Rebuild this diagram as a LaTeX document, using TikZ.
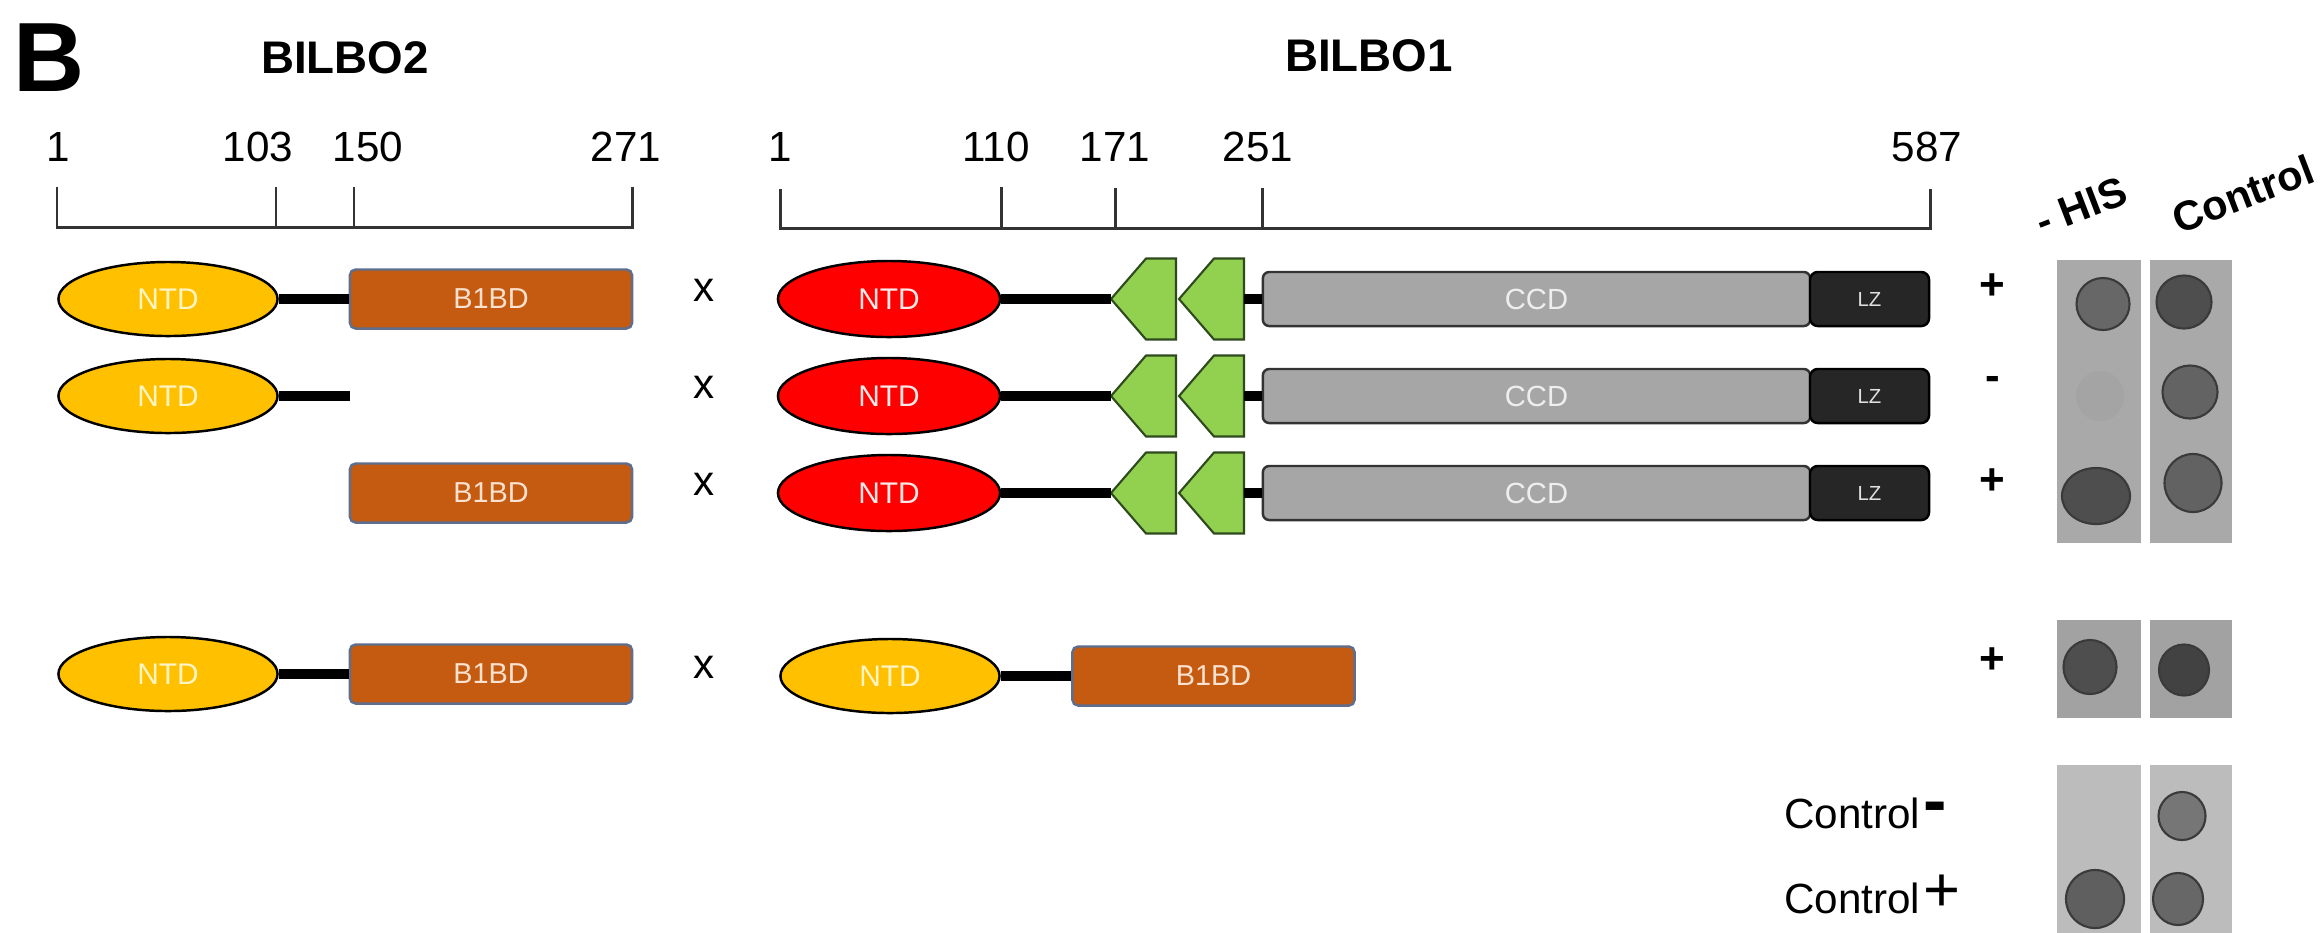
\documentclass[tikz,border=0pt]{standalone}
\usepackage{fontspec}
\setmainfont{Liberation Sans}
\usetikzlibrary{shapes.geometric}

\definecolor{ntdyel}{HTML}{FFC000}
\definecolor{ntdyeltext}{HTML}{FFF4C4}
\definecolor{ntdred}{HTML}{FF0000}
\definecolor{ntdredtext}{HTML}{FFE8E8}
\definecolor{bbd}{HTML}{C55A11}
\definecolor{bbdline}{HTML}{5E6E8C}
\definecolor{bbdtext}{HTML}{FBE2D0}
\definecolor{chevgreen}{HTML}{92D050}
\definecolor{chevline}{HTML}{2E4A1E}
\definecolor{ccdgray}{HTML}{A6A6A6}
\definecolor{ccdtext}{HTML}{EEEEEE}
\definecolor{lzblack}{HTML}{262626}
\definecolor{barline}{HTML}{333333}
\definecolor{padA}{HTML}{A9A9A9}
\definecolor{padB}{HTML}{A2A2A2}
\definecolor{padC}{HTML}{BCBCBC}
\definecolor{spot}{HTML}{4E4E4E}
\definecolor{spotlight}{HTML}{676767}
\definecolor{spotrim}{HTML}{3A3A3A}
\definecolor{faint}{HTML}{A4A4A4}

\newcommand{\fs}[1]{\fontsize{#1}{#1}\selectfont}

% left-pointing chevron: tip at (#1,#2), named coordinates for tip and back
\newcommand{\chevron}[3]{%
  \coordinate (#3tip) at (#1,#2);
  \coordinate (#3back) at ({#1+65},#2);
  \draw[chevstyle] (#1,#2) -- ++(35,-40.5) -- ++(30,0) -- ++(0,81) -- ++(-30,0) -- cycle;
}

\begin{document}
\begin{tikzpicture}[x=0.01cm,y=-0.01cm,
  ntdY/.style={ellipse, draw=black, line width=0.7pt, fill=ntdyel, inner sep=0pt,
    minimum width=2.19cm, minimum height=0.74cm, text=ntdyeltext, font=\fs{8.5}},
  ntdR/.style={ellipse, draw=black, line width=0.7pt, fill=ntdred, inner sep=0pt,
    minimum width=2.22cm, minimum height=0.76cm, text=ntdredtext, font=\fs{8.5}},
  bbox/.style={rectangle, rounded corners=1.6pt, draw=bbdline, line width=0.7pt, fill=bbd,
    inner sep=0pt, minimum width=2.82cm, minimum height=0.59cm, text=bbdtext, font=\fs{8.2}},
  ccdbox/.style={rectangle, rounded corners=1.8pt, draw=black!80, line width=0.7pt, fill=ccdgray,
    inner sep=0pt, minimum width=5.47cm, minimum height=0.54cm, text=ccdtext, font=\fs{8.3}},
  lzbox/.style={rectangle, rounded corners=2.2pt, draw=black, line width=0.7pt, fill=lzblack,
    inner sep=0pt, minimum width=1.19cm, minimum height=0.54cm, text=white!88!black, font=\fs{5.8}},
  chevstyle/.style={draw=chevline, line width=0.6pt, fill=chevgreen, line join=miter},
  linker/.style={line width=3.1pt, black},
  scalebar/.style={line width=0.85pt, barline},
  numlab/.style={anchor=base, inner sep=0pt, font=\fs{12}},
  title/.style={inner sep=0pt, font=\fs{13}\bfseries},
  cross/.style={inner sep=0pt, font=\fs{12}},
  result/.style={inner sep=0pt, font=\fs{12.5}\bfseries},
  colhead/.style={inner sep=0pt, font=\fs{11.8}\bfseries, rotate=21},
  pad/.style={rectangle, inner sep=0pt, draw=none},
  spotnode/.style={ellipse, inner sep=0pt, fill=spot, draw=spotrim, line width=0.6pt},
]
\useasboundingbox[fill=white] (0,0) rectangle (2324,932);

% ---------- headings ----------
\node[inner sep=0pt, font=\fs{28}\bfseries] (panel) at (49,58) {B};
\node[title] (t2) at (345,58) {BILBO2};
\node[title] (t1) at (1369,56) {BILBO1};

% ---------- BILBO2 scale ----------
\draw[scalebar] (57,187) -- (57,227) -- (632,227) -- (632,187);
\draw[scalebar] (276,187) -- (276,227);
\draw[scalebar] (354,187) -- (354,227);
\node[numlab] (n2a) at (58,161) {1};
\node[numlab] (n2b) at (258,161) {103};
\node[numlab] (n2c) at (368,161) {150};
\node[numlab] (n2d) at (626,161) {271};

% ---------- BILBO1 scale ----------
\draw[scalebar] (780,189) -- (780,228) -- (1930,228) -- (1930,189);
\draw[scalebar] (1001,187) -- (1001,228);
\draw[scalebar] (1115,188) -- (1115,228);
\draw[scalebar] (1262,188) -- (1262,228);
\node[numlab] (n1a) at (780,161) {1};
\node[numlab] (n1b) at (996,161) {110};
\node[numlab] (n1c) at (1115,161) {171};
\node[numlab] (n1d) at (1258,161) {251};
\node[numlab] (n1e) at (1927,161) {587};

% ---------- BILBO2 constructs ----------
\node[ntdY] (a1) at (168,299) {NTD};
\node[bbox] (a1b) at (491,299) {B1BD};
\draw[linker] (a1.east) -- (a1b.west);

\node[ntdY] (a2) at (168,396) {NTD};
\coordinate (a2end) at (350,396);
\draw[linker] (a2.east) -- (a2end);

\node[bbox] (a3b) at (491,493) {B1BD};

\node[ntdY] (a4) at (168,674) {NTD};
\node[bbox] (a4b) at (491,674) {B1BD};
\draw[linker] (a4.east) -- (a4b.west);

% ---------- crosses ----------
\node[cross] (x1) at (704,290) {x};
\node[cross] (x2) at (704,387) {x};
\node[cross] (x3) at (704,484) {x};
\node[cross] (x4) at (704,667) {x};

% ---------- BILBO1 constructs ----------
\foreach \r/\yy in {1/299, 2/396, 3/493}{
  \node[ntdR] (b\r) at (889,\yy) {NTD};
  \chevron{1111}{\yy}{ca\r}
  \chevron{1179}{\yy}{cb\r}
  \node[ccdbox] (ccd\r) at (1536.5,\yy) {CCD};
  \node[lzbox] (lz\r) at (1869.5,\yy) {LZ};
  \draw[linker] (b\r.east) -- (ca\r tip);
  \draw[linker] (cb\r back) -- (ccd\r.west);
}

\node[ntdY] (b4) at (890,676) {NTD};
\node[bbox] (b4b) at (1213.5,676) {B1BD};
\draw[linker] (b4.east) -- (b4b.west);

% ---------- growth scores ----------
\node[result] (s1) at (1992,287) {+};
\node[result] (s2) at (1993,383) {-};
\node[result] (s3) at (1992,482) {+};
\node[result] (s4) at (1992,661) {+};

% ---------- plate column headings ----------
\node[colhead] (hHis) at (2081,206) {- HIS};
\node[colhead] (hCtl) at (2243,194) {Control};

% ---------- control labels ----------
\node[anchor=base east, inner sep=0pt, font=\fs{12}] (cm) at (1921,828) {Control};
\node[anchor=base west, inner sep=0pt, font=\fs{20}\bfseries] (cmsign) at (1923,824) {-};
\node[anchor=base east, inner sep=0pt, font=\fs{12}] (cp) at (1921,913) {Control};
\node[anchor=base west, inner sep=0pt, font=\fs{18}] (cpsign) at (1923,911) {+};

% ---------- plates ----------
\node[pad, fill=padA, minimum width=0.84cm, minimum height=2.83cm] (p1) at (2099,401.5) {};
\node[pad, fill=padA, minimum width=0.82cm, minimum height=2.83cm] (p2) at (2191,401.5) {};
\node[pad, fill=padB, minimum width=0.84cm, minimum height=0.98cm] (p3) at (2099,669) {};
\node[pad, fill=padB, minimum width=0.82cm, minimum height=0.98cm] (p4) at (2191,669) {};
\node[pad, fill=padC, minimum width=0.84cm, minimum height=1.70cm] (p5) at (2099,850) {};
\node[pad, fill=padC, minimum width=0.82cm, minimum height=1.70cm] (p6) at (2191,850) {};

% colonies
\node[spotnode, fill=spotlight, minimum width=0.53cm, minimum height=0.52cm] (d1h) at (2103,304) {};
\node[spotnode, minimum width=0.55cm, minimum height=0.53cm] (d1c) at (2184,302) {};
\node[ellipse, inner sep=0pt, fill=faint, minimum width=0.48cm, minimum height=0.50cm] (d2h) at (2100,396) {};
\node[spotnode, fill=spotlight!85!spot, minimum width=0.55cm, minimum height=0.53cm] (d2c) at (2190,392) {};
\node[spotnode, minimum width=0.68cm, minimum height=0.56cm] (d3h) at (2096,496) {};
\node[spotnode, fill=spotlight!80!spot, minimum width=0.57cm, minimum height=0.58cm] (d3c) at (2193,483) {};
\node[spotnode, minimum width=0.53cm, minimum height=0.54cm] (d4h) at (2090,667) {};
\node[spotnode, fill=spot!85!black, minimum width=0.50cm, minimum height=0.51cm] (d4c) at (2184,670) {};
\node[spotnode, fill=spotlight!90!white, minimum width=0.47cm, minimum height=0.48cm] (d5c) at (2182,816) {};
\node[spotnode, fill=spotlight!70!spot, minimum width=0.58cm, minimum height=0.58cm] (d6h) at (2095,899) {};
\node[spotnode, fill=spotlight, minimum width=0.50cm, minimum height=0.52cm] (d6c) at (2178,899) {};
\end{tikzpicture}
\end{document}
